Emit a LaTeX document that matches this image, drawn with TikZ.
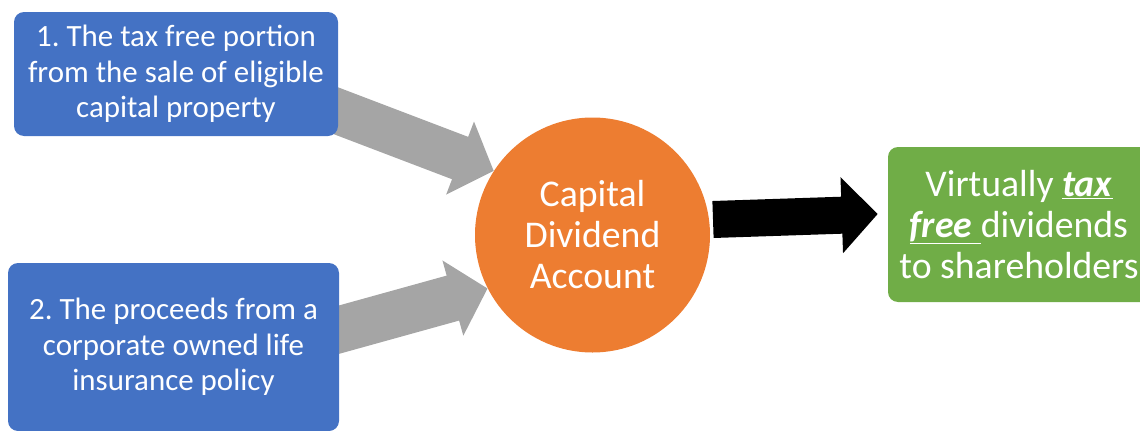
\documentclass[tikz,border=0pt]{standalone}
\usepackage{fontspec}
\setmainfont{Carlito}
\frenchspacing
\usetikzlibrary{positioning, calc, arrows.meta, backgrounds}

\definecolor{srcblue}{HTML}{4472C4}
\definecolor{cdaorange}{HTML}{ED7D31}
\definecolor{outgreen}{HTML}{70AD47}
\definecolor{flowgray}{HTML}{A5A5A5}

\begin{document}
\begin{tikzpicture}[x=0.75pt, y=0.75pt, color=white]

    \tikzstyle{block} = [rectangle, rounded corners=7.5pt, inner sep=0pt, align=center,
                         font=\fontsize{23.2}{26.6}\selectfont]
    \tikzstyle{flow} = [draw=flowgray, line width=34pt,
                        -{Triangle[length=27pt, width=57pt]}]

    \clip (0,0) rectangle (1140,430);
    \useasboundingbox (0,0) rectangle (1140,430);

    % Where the money comes from
    \node [block, fill=srcblue, minimum width=243pt, minimum height=93pt] (sale) at (176,356)
        {1. The tax free portion\\from the sale of eligible\\capital property};
    \node [block, fill=srcblue, minimum width=248.25pt, minimum height=126pt] (insurance) at (173.5,83)
        {2. The proceeds from a\\corporate owned life\\insurance policy};

    % The account itself
    \node [circle, fill=cdaorange, minimum size=176.25pt, inner sep=0pt, align=center,
           font=\fontsize{28.3}{30.75}\selectfont] (cda) at (592.5,195)
        {Capital\\Dividend\\Account};

    % What goes out
    \node [block, fill=outgreen, minimum width=196.5pt, minimum height=116.25pt,
           font=\fontsize{28.3}{30.75}\selectfont] (payout) at (1019,205.5)
        {Virtually \underline{\textbf{\textit{tax}}}\\\underline{\textbf{\textit{free}}\ }dividends\\to shareholders};

    % Arrows sit under the boxes
    \begin{scope}[on background layer]
        \coordinate (saleout) at ($(sale.east)+(-17.7,-30.9)$);
        \coordinate (insout) at ($(insurance.east)+(-17,12.7)$);
        \coordinate (cdaout) at ($(cda.center)+(120.5,15.5)$);
        \coordinate (payin) at ($(payout.west)+(-10,10.5)$);

        \draw [flow] (saleout) -- (cda.147);
        \draw [flow, line width=35pt] (insout) -- (cda.207);
        \draw [draw=black, line width=27.75pt,
               -{Triangle[length=27pt, width=55.5pt]}] (cdaout) -- (payin);
    \end{scope}

\end{tikzpicture}
\end{document}
